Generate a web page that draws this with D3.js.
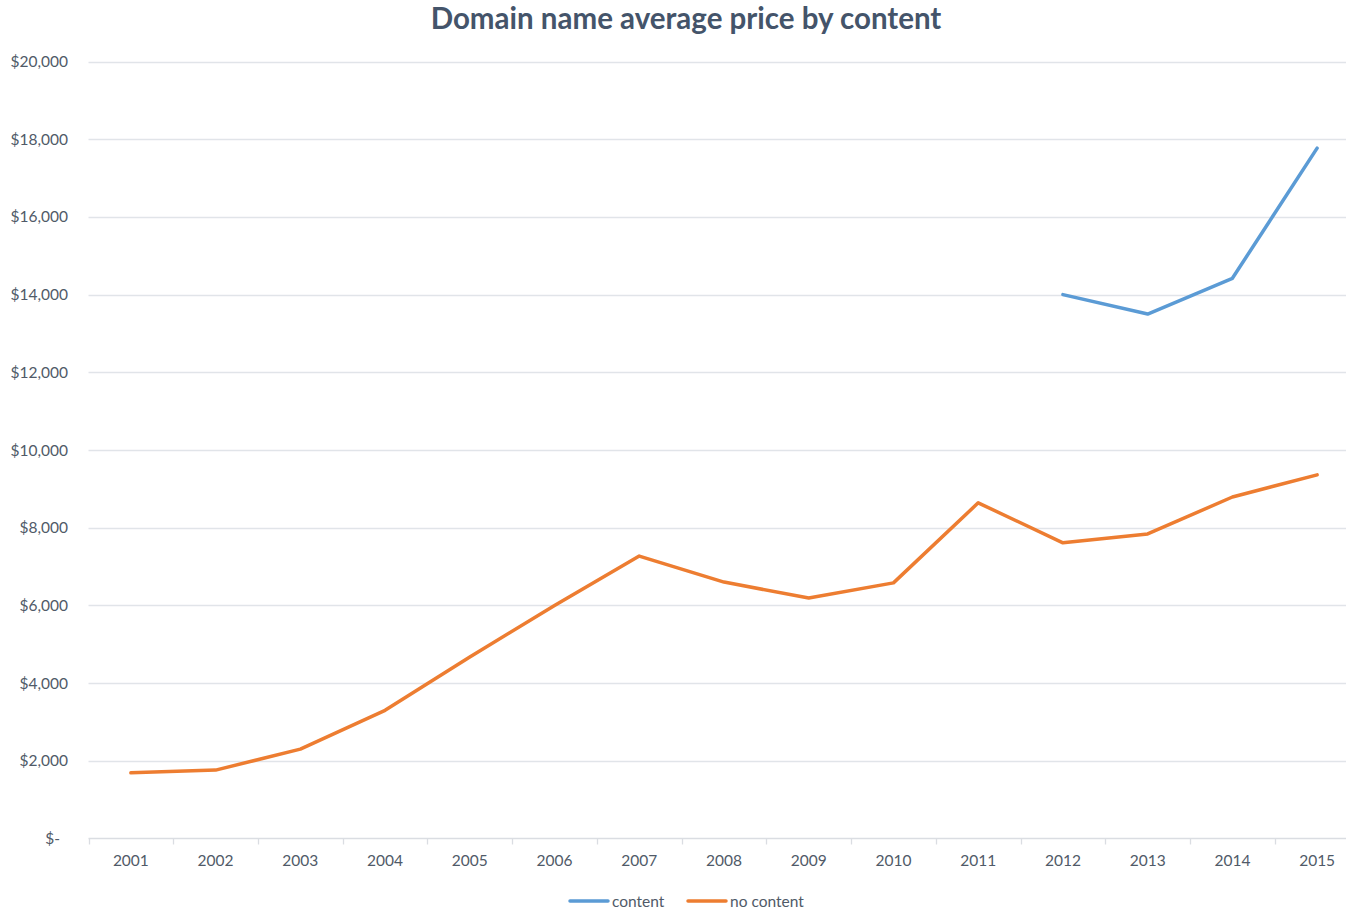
<!DOCTYPE html>
<html>
<head>
<meta charset="utf-8">
<script src="https://cdn.jsdelivr.net/npm/d3@7/dist/d3.min.js"></script>
<style type="text/css">
body {
	margin: 0;
	background: #fff;
}
text {
	font-family: Lato, "Open Sans", sans-serif;
	fill: #505a68;
}
.title {
	font-size: 29.5px;
	font-weight: bold;
	fill: #44546a;
}
.grid line {
	stroke: #e1e4e9;
	stroke-width: 1.3px;
}
</style>
</head>
<body>
<svg id="chart" width="1346" height="909"></svg>
<script type="text/javascript">
// chart data
var years = ["2001","2002","2003","2004","2005","2006","2007","2008","2009","2010","2011","2012","2013","2014","2015"];
var contentValues = [null,null,null,null,null,null,null,null,null,null,null,14000,13500,14420,17770];
var noContentValues = [1690,1760,2300,3300,4670,6000,7270,6600,6190,6580,8640,7610,7840,8790,9360];
var yTicks = [0,2000,4000,6000,8000,10000,12000,14000,16000,18000,20000];
var seriesNames = ["content","no content"];
var seriesColors = ["#5b9bd5","#ed7d31"];

var svg = d3.select("#chart");

var x = d3.scaleBand().domain(years).range([88.5, 1359.5]);
var y = d3.scaleLinear().domain([0, 20000]).range([838.5, 61.5]);

svg.append("text").attr("class","title")
	.attr("x", 686).attr("y", 29)
	.attr("text-anchor","middle")
	.text("Domain name average price by content");

// horizontal gridlines
var grid = svg.append("g").attr("class","grid");
grid.selectAll("line").data(yTicks.filter(function(d){return d > 0;})).enter()
	.append("line")
	.attr("x1", 88.5).attr("x2", 1346)
	.attr("y1", function(d){return Math.round(y(d)) + 0.5;})
	.attr("y2", function(d){return Math.round(y(d)) + 0.5;});

// y labels, excel accounting style
var fmt = d3.format(",");
svg.append("g").selectAll("text").data(yTicks).enter()
	.append("text")
	.attr("x", function(d){return d === 0 ? 60 : 68;})
	.attr("y", function(d){return y(d) + 5.5;})
	.attr("text-anchor","end")
	.style("font-size","15.5px")
	.text(function(d){return d === 0 ? "$-" : "$" + fmt(d);});

// x axis
var xAxis = d3.axisBottom(x).tickSize(0).tickPadding(16);
var gx = svg.append("g").attr("transform","translate(0,838.5)").call(xAxis);
gx.select(".domain").remove();
gx.selectAll("text").style("font-size","15.5px").attr("fill","#505a68").style("font-family","Lato, sans-serif");
gx.append("line").attr("x1", 88.5).attr("x2", 1346).attr("y1",0).attr("y2",0)
	.attr("stroke","#dadde2").attr("stroke-width",1.3);
gx.selectAll(".sep").data(years).enter().append("line").attr("class","sep")
	.attr("x1", function(d){return Math.round(x(d)) + 0.5;})
	.attr("x2", function(d){return Math.round(x(d)) + 0.5;})
	.attr("y1", 0).attr("y2", 6)
	.attr("stroke","#dadde2").attr("stroke-width",1.3);

// lines
var line = d3.line()
	.defined(function(d){return d.v !== null;})
	.x(function(d){return x(d.year) + x.bandwidth()/2;})
	.y(function(d){return y(d.v);});

[contentValues, noContentValues].forEach(function(vals, i){
	var pts = years.map(function(yr, j){return {year: yr, v: vals[j]};});
	svg.append("path").datum(pts)
		.attr("d", line)
		.attr("fill","none")
		.attr("stroke", seriesColors[i])
		.attr("stroke-width", 3.5)
		.attr("stroke-linejoin","round")
		.attr("stroke-linecap","round");
});

// legend
var legend = svg.append("g");
var legX = [570, 688];
seriesNames.forEach(function(name, i){
	legend.append("line")
		.attr("x1", legX[i]).attr("x2", legX[i] + 38)
		.attr("y1", 901).attr("y2", 901)
		.attr("stroke", seriesColors[i]).attr("stroke-width", 3.5)
		.attr("stroke-linecap","round");
	legend.append("text")
		.attr("x", legX[i] + 42).attr("y", 906.5)
		.style("font-size","15.5px")
		.text(name);
});
</script>
</body>
</html>
